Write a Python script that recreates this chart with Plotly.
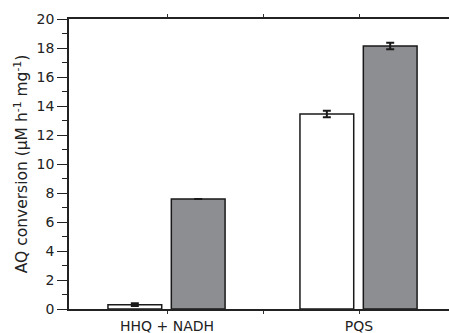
import plotly.graph_objects as go

categories = ["HHQ + NADH", "PQS"]
cat_pos = [1, 3]
white_values = [0.3, 13.45]
white_err = [0.1, 0.22]
grey_values = [7.58, 18.14]
grey_err = [0.0, 0.22]
y_ticks = [0, 2, 4, 6, 8, 10, 12, 14, 16, 18, 20]

FONT = "DejaVu Sans, Liberation Sans, Arial, sans-serif"

fig = go.Figure()
fig.add_trace(go.Bar(
    x=cat_pos, y=white_values, width=0.56, offset=-0.615,
    marker=dict(color="white", line=dict(color="#1a1a1a", width=1.5)),
    error_y=dict(type="data", array=white_err, color="#1a1a1a", thickness=2, width=4),
    showlegend=False,
))
fig.add_trace(go.Bar(
    x=cat_pos, y=grey_values, width=0.56, offset=0.045,
    marker=dict(color="#8c8e91", line=dict(color="#1a1a1a", width=1.5)),
    error_y=dict(type="data", array=grey_err, color="#1a1a1a", thickness=2, width=4),
    showlegend=False,
))

fig.update_layout(
    width=449, height=333,
    margin=dict(l=69, r=0, t=19, b=24, autoexpand=False),
    paper_bgcolor="white", plot_bgcolor="white",
    font=dict(family=FONT, size=14, color="#222"),
    barmode="overlay",
)
fig.update_xaxes(
    range=[-0.0208, 3.9375],
    tickmode="array", tickvals=[1, 2, 3], ticktext=[categories[0], " ", categories[1]],
    ticks="outside", ticklen=3, tickcolor="#333", tickwidth=1,
    showline=True, linecolor="#222", linewidth=1.5, mirror="ticks",
    showgrid=False, zeroline=False,
    tickfont=dict(family=FONT, size=14),
    automargin=False,
)
fig.update_yaxes(
    range=[0, 20],
    tickmode="array", tickvals=y_ticks, ticktext=[str(v) for v in y_ticks],
    ticks="outside", ticklen=10, tickcolor="#222", tickwidth=1.2,
    minor=dict(dtick=1, ticks="outside", ticklen=5, tickcolor="#222", tickwidth=1),
    showline=True, linecolor="#222", linewidth=1.5,
    showgrid=False, zeroline=False,
    title=dict(text="AQ conversion (μM h<sup>-1</sup> mg<sup>-1</sup>)",
               font=dict(family=FONT, size=15.5), standoff=5),
    tickfont=dict(family=FONT, size=14),
    automargin=False,
)

fig.write_html("out.html", config={"displayModeBar": False},
               post_script="document.body.style.margin='0';")
